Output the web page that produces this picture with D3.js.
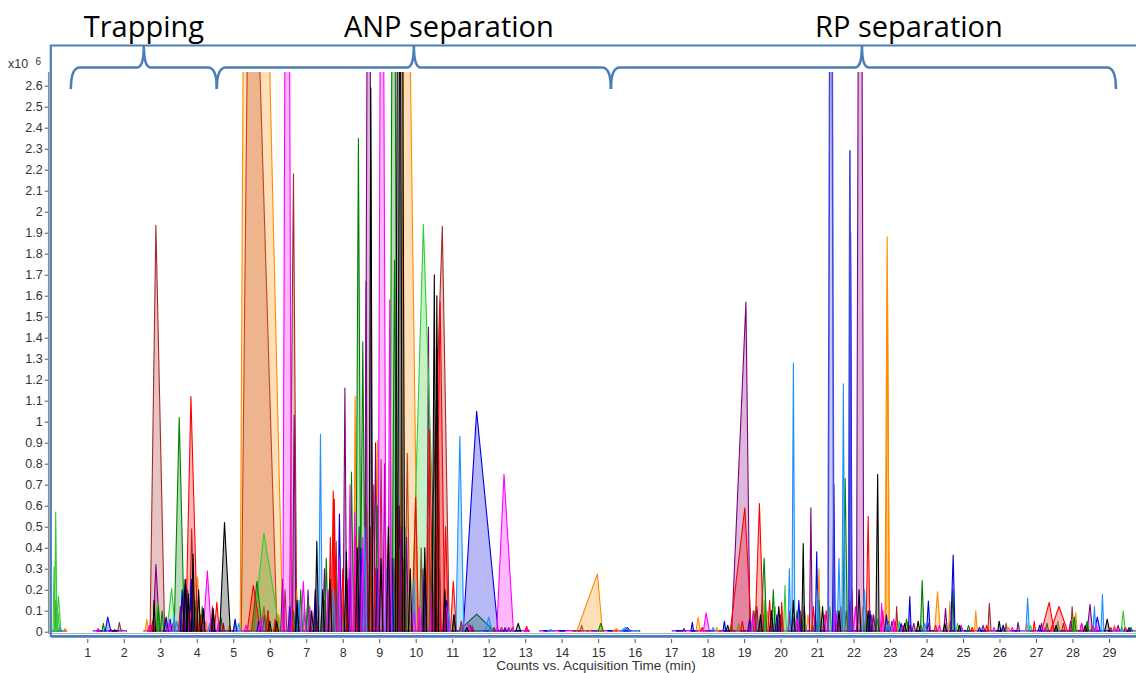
<!DOCTYPE html>
<html lang="en">
<head>
<meta charset="UTF-8">
<title>EIC overlay: trapping, ANP and RP separation</title>
<script src="https://d3js.org/d3.v7.min.js"></script>
<style>
  body { margin: 0; background: #fff; }
  svg text { font-family: "Liberation Sans", Arial, sans-serif; }
</style>
</head>
<body>
<div id="chart"></div>
<script>
// every peak: [start (min), apex (min), end (min), height (x10^6 counts)]
var brownPeaks = [
  [0.12, 0.14, 0.17, 0.15], [1.83, 1.88, 1.93, 0.045], [2.72, 2.88, 3.12, 1.935], [3.1, 3.14, 3.18, 0.06],
  [3.8, 3.86, 3.94, 0.49], [3.95, 4.0, 4.05, 0.12], [4.38, 4.43, 4.48, 0.12], [5.22, 5.47, 6.2, 4.16],
  [5.75, 5.84, 5.93, 0.12], [6.37, 6.42, 6.47, 0.2], [6.54, 6.65, 6.74, 2.18], [6.9, 6.95, 7.0, 0.08],
  [7.45, 7.5, 7.55, 0.15], [7.77, 7.82, 7.87, 0.43], [7.97, 8.02, 8.06, 0.15], [8.3, 8.35, 8.4, 0.3],
  [8.8, 8.85, 8.9, 0.7], [9.0, 9.05, 9.1, 0.82], [9.35, 9.4, 9.45, 0.35], [9.7, 9.77, 9.84, 0.85],
  [10.1, 10.15, 10.2, 0.4], [10.36, 10.73, 10.92, 1.93], [11.0, 11.05, 11.1, 0.08], [11.45, 11.5, 11.55, 0.03],
  [12.3, 12.35, 12.4, 0.02], [14.5, 14.55, 14.6, 0.03], [19.2, 19.25, 19.3, 0.1], [19.5, 19.55, 19.6, 0.08],
  [19.85, 19.9, 19.95, 0.06], [20.3, 20.35, 20.4, 0.07], [20.5, 20.55, 20.6, 0.1], [21.0, 21.04, 21.08, 0.09],
  [21.75, 21.8, 21.85, 0.1], [22.45, 22.5, 22.55, 0.08], [23.15, 23.18, 23.22, 0.12], [23.8, 23.85, 23.9, 0.03],
  [24.6, 24.65, 24.7, 0.05], [25.68, 25.72, 25.77, 0.135], [26.15, 26.18, 26.22, 0.04], [27.7, 27.75, 27.8, 0.04],
  [27.95, 27.99, 28.03, 0.12], [29.0, 29.05, 29.1, 0.02]
];
var orangePeaks = [
  [0.33, 0.39, 0.45, 0.015], [2.58, 2.63, 2.68, 0.06], [3.93, 4.02, 4.12, 0.26], [4.2, 4.25, 4.3, 0.05],
  [4.85, 4.9, 4.95, 0.03], [5.19, 5.4, 6.36, 7.15], [6.2, 6.25, 6.3, 0.08], [6.69, 6.74, 6.79, 0.2],
  [7.3, 7.35, 7.4, 0.12], [7.8, 7.85, 7.9, 0.25], [8.3, 8.34, 8.39, 1.12], [8.6, 8.65, 8.7, 0.6],
  [8.9, 8.95, 9.0, 0.91], [9.2, 9.25, 9.3, 0.45], [9.57, 9.73, 10.06, 4.3], [10.3, 10.35, 10.4, 0.5],
  [10.5, 10.55, 10.6, 0.2], [11.0, 11.05, 11.1, 0.05], [11.4, 11.45, 11.5, 0.02], [14.41, 14.98, 15.12, 0.275],
  [15.4, 15.5, 15.6, 0.015], [17.68, 17.74, 17.8, 0.07], [18.2, 18.25, 18.3, 0.02], [19.15, 19.2, 19.25, 0.04],
  [19.6, 19.65, 19.7, 0.1], [20.0, 20.05, 20.1, 0.06], [20.7, 20.75, 20.8, 0.08], [21.01, 21.05, 21.09, 0.3],
  [21.6, 21.65, 21.7, 0.06], [22.2, 22.25, 22.3, 0.12], [22.86, 22.92, 22.98, 1.88], [22.88, 22.93, 22.98, 1.65],
  [23.45, 23.5, 23.55, 0.05], [24.22, 24.3, 24.38, 0.19], [24.6, 24.64, 24.68, 0.143], [25.31, 25.35, 25.39, 0.1],
  [26.2, 26.25, 26.3, 0.02], [26.7, 26.75, 26.8, 0.04], [27.4, 27.45, 27.5, 0.03], [28.05, 28.09, 28.13, 0.09],
  [29.1, 29.15, 29.2, 0.03]
];
var purplePeaks = [
  [1.6, 1.65, 1.7, 0.01], [2.8, 2.88, 2.98, 0.32], [3.5, 3.55, 3.6, 0.12], [3.8, 3.85, 3.9, 0.18],
  [4.4, 4.45, 4.5, 0.1], [5.8, 5.85, 5.9, 0.08], [6.3, 6.35, 6.4, 0.25], [6.62, 6.67, 6.72, 1.03],
  [7.0, 7.05, 7.1, 0.2], [7.45, 7.5, 7.55, 0.3], [7.75, 7.8, 7.85, 0.35], [8.01, 8.06, 8.11, 1.16],
  [8.4, 8.45, 8.5, 0.5], [8.6, 8.64, 8.68, 1.67], [8.61, 8.71, 8.81, 5], [8.85, 8.9, 8.95, 0.9],
  [9.1, 9.15, 9.2, 0.8], [9.5, 9.55, 9.6, 0.6], [9.7, 9.75, 9.8, 0.45], [10.15, 10.2, 10.25, 0.3],
  [10.3, 10.35, 10.4, 1.45], [10.6, 10.65, 10.7, 0.3], [11.2, 11.25, 11.3, 0.05], [12.5, 12.55, 12.6, 0.02],
  [17.3, 17.35, 17.4, 0.015], [18.66, 19.05, 19.16, 1.57], [19.3, 19.35, 19.4, 0.12], [19.95, 20.0, 20.05, 0.08],
  [20.2, 20.25, 20.3, 0.07], [20.6, 20.65, 20.7, 0.12], [20.79, 20.83, 20.87, 0.59], [21.5, 21.55, 21.6, 0.1],
  [21.85, 21.9, 21.95, 0.15], [22.08, 22.18, 22.28, 6], [22.5, 22.55, 22.6, 0.08], [23.0, 23.05, 23.1, 0.05],
  [23.6, 23.65, 23.7, 0.04], [24.47, 24.52, 24.57, 0.11], [25.5, 25.55, 25.6, 0.03], [26.47, 26.51, 26.55, 0.045],
  [27.1, 27.15, 27.2, 0.04], [27.9, 27.95, 28.0, 0.05], [28.4, 28.48, 28.55, 0.13], [29.2, 29.25, 29.3, 0.03]
];
var limePeaks = [
  [0.06, 0.09, 0.12, 0.31], [0.1, 0.134, 0.17, 0.57], [0.14, 0.21, 0.28, 0.17], [0.17, 0.2, 0.24, 0.09],
  [2.88, 2.92, 2.96, 0.14], [3.18, 3.31, 3.42, 0.207], [4.3, 4.35, 4.4, 0.04], [5.0, 5.05, 5.1, 0.05],
  [5.55, 5.84, 6.28, 0.47], [6.5, 6.55, 6.6, 0.15], [6.9, 6.95, 7.0, 0.12], [7.6, 7.65, 7.7, 0.3],
  [7.9, 7.95, 8.0, 0.2], [8.7, 8.75, 8.8, 0.5], [9.5, 9.55, 9.6, 0.4], [9.89, 10.21, 10.58, 1.94],
  [11.5, 11.55, 11.6, 0.03], [12.0, 12.05, 12.1, 0.02], [18.8, 18.85, 18.9, 0.04], [19.55, 19.57, 19.6, 0.15],
  [19.8, 19.85, 19.9, 0.12], [20.08, 20.12, 20.16, 0.22], [20.6, 20.65, 20.7, 0.1], [21.3, 21.35, 21.4, 0.12],
  [22.6, 22.65, 22.7, 0.06], [23.2, 23.25, 23.3, 0.05], [24.8, 24.85, 24.9, 0.04], [26.8, 26.85, 26.9, 0.03],
  [27.55, 27.6, 27.65, 0.05], [28.0, 28.02, 28.06, 0.07], [29.33, 29.39, 29.45, 0.1]
];
var greenPeaks = [
  [1.4, 1.44, 1.48, 0.04], [2.9, 2.95, 3.0, 0.12], [3.0, 3.05, 3.1, 0.1], [3.38, 3.52, 3.66, 1.02],
  [3.7, 3.75, 3.8, 0.2], [3.9, 3.95, 4.0, 0.15], [4.1, 4.15, 4.2, 0.12], [4.6, 4.66, 4.72, 0.07],
  [5.5, 5.65, 5.8, 0.24], [5.9, 5.95, 6.0, 0.1], [6.6, 6.65, 6.7, 0.1], [6.8, 6.85, 6.9, 0.2],
  [7.0, 7.05, 7.1, 0.15], [7.5, 7.55, 7.6, 0.35], [7.75, 7.8, 7.85, 0.3], [8.19, 8.24, 8.3, 0.76],
  [8.36, 8.43, 8.5, 2.35], [8.48, 8.55, 8.62, 1.38], [8.9, 8.95, 9.0, 0.6], [9.29, 9.39, 9.5, 5],
  [9.35, 9.42, 9.5, 1.77], [9.65, 9.7, 9.75, 0.5], [10.4, 10.45, 10.5, 0.3], [11.16, 11.67, 12.17, 0.084],
  [12.6, 12.65, 12.7, 0.02], [15.0, 15.07, 15.15, 0.04], [18.6, 18.65, 18.7, 0.03], [19.25, 19.3, 19.35, 0.1],
  [19.45, 19.55, 19.62, 0.35], [19.75, 19.8, 19.85, 0.2], [20.4, 20.45, 20.5, 0.1], [20.9, 20.95, 21.0, 0.08],
  [21.0, 21.05, 21.1, 0.15], [21.7, 21.77, 21.83, 0.73], [22.3, 22.35, 22.4, 0.1], [22.9, 22.95, 23.0, 0.05],
  [23.4, 23.45, 23.5, 0.06], [23.83, 23.88, 23.93, 0.243], [24.68, 24.72, 24.76, 0.2], [25.1, 25.15, 25.2, 0.03],
  [26.05, 26.1, 26.15, 0.03], [27.25, 27.3, 27.35, 0.04], [28.0, 28.05, 28.1, 0.07], [28.35, 28.4, 28.45, 0.05],
  [29.55, 29.6, 29.65, 0.02]
];
var redPeaks = [
  [2.68, 2.72, 2.78, 0.03], [2.74, 2.79, 2.85, 0.05], [3.3, 3.35, 3.4, 0.04], [3.5, 3.6, 3.68, 0.16],
  [3.62, 3.7, 3.8, 0.25], [3.7, 3.84, 4.02, 1.12], [4.05, 4.1, 4.15, 0.08], [4.48, 4.55, 4.62, 0.14],
  [4.7, 4.73, 4.76, 0.04], [5.38, 5.55, 5.75, 0.22], [5.9, 5.95, 6.0, 0.1], [6.1, 6.15, 6.2, 0.06],
  [6.55, 6.6, 6.65, 0.15], [7.2, 7.25, 7.3, 0.2], [7.62, 7.66, 7.71, 0.45], [7.69, 7.74, 7.8, 0.67],
  [7.72, 7.77, 7.82, 0.63], [7.95, 8.0, 8.05, 0.3], [8.1, 8.15, 8.2, 0.25], [8.3, 8.35, 8.4, 0.45],
  [8.45, 8.5, 8.55, 0.35], [8.7, 8.75, 8.8, 0.5], [8.85, 8.9, 8.95, 0.3], [9.2, 9.25, 9.3, 0.4],
  [9.45, 9.5, 9.55, 0.6], [9.6, 9.65, 9.7, 0.35], [9.9, 10.0, 10.08, 0.64], [10.28, 10.38, 10.48, 0.96],
  [10.5, 10.6, 10.68, 1.35], [10.55, 10.67, 10.8, 1.57], [10.75, 10.82, 10.9, 0.5], [10.95, 11.03, 11.12, 0.24],
  [11.2, 11.25, 11.3, 0.05], [11.5, 11.55, 11.6, 0.02], [12.1, 12.15, 12.2, 0.02], [12.98, 13.04, 13.1, 0.025],
  [17.8, 17.85, 17.9, 0.02], [18.62, 19.02, 19.2, 0.59], [18.9, 18.95, 19.0, 0.05], [19.3, 19.42, 19.53, 0.61],
  [19.65, 19.7, 19.75, 0.15], [20.0, 20.03, 20.07, 0.14], [20.2, 20.25, 20.3, 0.1], [20.5, 20.55, 20.6, 0.08],
  [20.85, 20.9, 20.95, 0.12], [21.2, 21.25, 21.3, 0.1], [21.6, 21.65, 21.7, 0.12], [21.9, 21.95, 22.0, 0.2],
  [22.34, 22.4, 22.45, 0.55], [22.75, 22.8, 22.85, 0.1], [23.1, 23.14, 23.18, 0.05], [23.5, 23.55, 23.6, 0.03],
  [24.0, 24.05, 24.1, 0.04], [24.2, 24.25, 24.3, 0.03], [25.2, 25.25, 25.3, 0.02], [25.6, 25.65, 25.7, 0.03],
  [26.92, 26.95, 26.99, 0.05], [27.15, 27.36, 27.5, 0.14], [27.39, 27.63, 27.87, 0.12], [28.2, 28.25, 28.3, 0.04],
  [28.5, 28.55, 28.6, 0.03], [29.4, 29.45, 29.5, 0.02]
];
var bluePeaks = [
  [1.49, 1.56, 1.65, 0.07], [3.1, 3.16, 3.22, 0.07], [3.22, 3.27, 3.32, 0.06], [3.55, 3.6, 3.66, 0.2],
  [3.64, 3.7, 3.76, 0.22], [3.8, 3.85, 3.9, 0.25], [4.35, 4.4, 4.45, 0.05], [5.0, 5.05, 5.1, 0.06],
  [5.65, 5.7, 5.75, 0.05], [6.5, 6.55, 6.6, 0.12], [6.7, 6.75, 6.8, 0.1], [7.2, 7.25, 7.3, 0.2],
  [7.86, 7.91, 7.96, 0.56], [8.15, 8.2, 8.25, 0.3], [8.45, 8.5, 8.55, 0.4], [8.9, 8.95, 9.0, 0.3],
  [9.3, 9.35, 9.4, 0.35], [10.2, 10.25, 10.3, 0.25], [10.8, 10.85, 10.9, 0.15], [11.3, 11.67, 12.26, 1.05],
  [12.4, 12.45, 12.5, 0.02], [15.7, 15.8, 15.9, 0.02], [17.54, 17.58, 17.62, 0.045], [18.42, 18.46, 18.5, 0.05],
  [19.1, 19.15, 19.2, 0.06], [19.85, 19.9, 19.95, 0.08], [20.45, 20.5, 20.55, 0.15], [20.95, 20.99, 21.03, 0.38],
  [21.42, 21.46, 21.5, 0.7], [21.87, 21.92, 21.96, 1.9], [22.4, 22.45, 22.5, 0.1], [22.85, 22.9, 22.95, 0.08],
  [23.25, 23.3, 23.35, 0.04], [23.5, 23.54, 23.58, 0.167], [24.0, 24.05, 24.1, 0.146], [24.66, 24.73, 24.78, 0.365],
  [25.4, 25.45, 25.5, 0.02], [26.05, 26.1, 26.15, 0.03], [27.05, 27.1, 27.15, 0.03], [28.6, 28.68, 28.76, 0.07],
  [29.5, 29.55, 29.6, 0.02]
];
var slatePeaks = [
  [21.3, 21.38, 21.46, 5], [21.86, 21.9, 21.94, 2.29]
];
var dodgerPeaks = [
  [0.2, 0.25, 0.3, 0.02], [1.92, 1.95, 1.98, 0.01], [3.35, 3.38, 3.42, 0.08], [3.4, 3.45, 3.5, 0.05],
  [4.55, 4.6, 4.65, 0.04], [5.1, 5.15, 5.2, 0.04], [6.75, 6.8, 6.85, 0.15], [7.34, 7.39, 7.44, 0.94],
  [7.7, 7.75, 7.8, 0.2], [8.55, 8.6, 8.65, 0.5], [9.15, 9.2, 9.25, 0.3], [9.9, 9.95, 10.0, 0.25],
  [10.85, 10.9, 10.95, 0.1], [11.1, 11.21, 11.32, 0.93], [11.9, 12.0, 12.1, 0.07], [13.6, 13.7, 13.8, 0.01],
  [15.6, 15.75, 15.9, 0.02], [18.1, 18.15, 18.2, 0.02], [19.4, 19.45, 19.5, 0.08], [20.2, 20.24, 20.28, 0.3],
  [20.31, 20.35, 20.39, 1.28], [21.0, 21.02, 21.05, 0.2], [21.55, 21.6, 21.65, 0.35], [21.68, 21.72, 21.76, 1.18],
  [22.25, 22.3, 22.35, 0.2], [22.9, 22.95, 23.0, 0.04], [23.9, 23.95, 24.0, 0.04], [24.9, 24.95, 25.0, 0.03],
  [26.72, 26.77, 26.82, 0.16], [27.5, 27.55, 27.6, 0.03], [28.56, 28.6, 28.64, 0.12], [28.78, 28.82, 28.86, 0.178],
  [29.3, 29.35, 29.4, 0.02]
];
var magentaPeaks = [
  [1.25, 1.3, 1.35, 0.015], [2.65, 2.7, 2.75, 0.03], [3.2, 3.25, 3.3, 0.05], [3.78, 3.82, 3.86, 0.1],
  [4.18, 4.29, 4.4, 0.29], [4.55, 4.6, 4.65, 0.05], [5.3, 5.35, 5.4, 0.03], [5.7, 5.75, 5.8, 0.06],
  [6.36, 6.48, 6.6, 6], [6.85, 6.92, 6.99, 0.24], [7.05, 7.1, 7.15, 0.12], [7.55, 7.6, 7.65, 0.2],
  [7.85, 7.9, 7.95, 0.35], [8.15, 8.2, 8.25, 0.7], [8.28, 8.33, 8.38, 0.57], [8.5, 8.55, 8.6, 0.45],
  [8.97, 9.07, 9.19, 5], [9.24, 9.29, 9.34, 1.58], [9.55, 9.6, 9.65, 0.5], [9.9, 9.95, 10.0, 0.1],
  [10.05, 10.1, 10.15, 0.12], [10.4, 10.45, 10.5, 0.2], [10.8, 10.85, 10.9, 0.12], [11.4, 11.45, 11.5, 0.04],
  [12.22, 12.42, 12.68, 0.75], [13.0, 13.05, 13.1, 0.015], [17.88, 17.96, 18.05, 0.09], [19.2, 19.25, 19.3, 0.08],
  [19.7, 19.75, 19.8, 0.1], [19.9, 19.95, 20.0, 0.05], [20.4, 20.45, 20.5, 0.06], [21.15, 21.2, 21.25, 0.08],
  [21.45, 21.5, 21.55, 0.1], [22.0, 22.05, 22.1, 0.12], [22.73, 22.77, 22.81, 0.135], [23.05, 23.1, 23.15, 0.06],
  [23.3, 23.35, 23.4, 0.03], [24.3, 24.35, 24.4, 0.03], [24.9, 24.95, 25.0, 0.03], [25.8, 25.85, 25.9, 0.02],
  [26.3, 26.35, 26.4, 0.02], [27.2, 27.25, 27.3, 0.02], [28.2, 28.25, 28.3, 0.04], [28.6, 28.65, 28.7, 0.03],
  [29.1, 29.15, 29.2, 0.02]
];
var blackPeaks = [
  [1.7, 1.75, 1.8, 0.01], [2.8, 2.83, 2.87, 0.15], [3.62, 3.68, 3.74, 0.25], [3.72, 3.77, 3.82, 0.18],
  [3.85, 3.9, 3.95, 0.37], [4.0, 4.05, 4.1, 0.2], [4.13, 4.18, 4.23, 0.11], [4.4, 4.45, 4.5, 0.11],
  [4.63, 4.76, 4.92, 0.52], [5.95, 6.0, 6.05, 0.05], [6.14, 6.19, 6.24, 0.05], [6.7, 6.75, 6.8, 0.15],
  [7.1, 7.15, 7.2, 0.1], [7.24, 7.29, 7.34, 0.43], [7.4, 7.45, 7.5, 0.2], [7.6, 7.65, 7.7, 0.25],
  [8.05, 8.1, 8.15, 0.38], [8.35, 8.4, 8.45, 0.4], [8.72, 8.77, 8.82, 2.59], [9.0, 9.05, 9.1, 0.35],
  [9.2, 9.25, 9.3, 0.5], [9.44, 9.54, 9.64, 5], [9.5, 9.6, 9.7, 5], [9.8, 9.85, 9.9, 0.3],
  [10.2, 10.25, 10.3, 0.4], [10.45, 10.51, 10.56, 1.7], [10.53, 10.58, 10.63, 1.6], [10.75, 10.8, 10.85, 0.2],
  [11.0, 11.05, 11.1, 0.08], [11.35, 11.4, 11.45, 0.02], [12.74, 12.81, 12.88, 0.04], [18.5, 18.55, 18.6, 0.03],
  [19.4, 19.45, 19.5, 0.08], [19.7, 19.75, 19.8, 0.1], [19.9, 19.95, 20.0, 0.12], [20.3, 20.35, 20.4, 0.15],
  [20.58, 20.62, 20.66, 0.42], [21.1, 21.15, 21.2, 0.12], [21.55, 21.6, 21.65, 0.1], [22.1, 22.15, 22.2, 0.2],
  [22.35, 22.4, 22.45, 0.1], [22.61, 22.66, 22.7, 0.75], [23.35, 23.4, 23.45, 0.04], [23.72, 23.77, 23.82, 0.05],
  [24.45, 24.5, 24.55, 0.04], [24.85, 24.9, 24.95, 0.03], [25.95, 25.99, 26.04, 0.05], [27.5, 27.55, 27.6, 0.03],
  [28.3, 28.35, 28.4, 0.03], [28.88, 28.95, 29.02, 0.06]
];

// where the traces have points at all (min)
var baselineRuns = [[0.02, 0.44], [1.15, 2.08], [2.54, 13.13], [13.39, 16.15], [17.02, 29.74]];

var yTicks = [0, 0.1, 0.2, 0.3, 0.4, 0.5, 0.6, 0.7, 0.8, 0.9, 1, 1.1, 1.2, 1.3, 1.4, 1.5, 1.6, 1.7, 1.8, 1.9, 2, 2.1, 2.2, 2.3, 2.4, 2.5, 2.6];
var xTicks = [1, 2, 3, 4, 5, 6, 7, 8, 9, 10, 11, 12, 13, 14, 15, 16, 17, 18, 19, 20, 21, 22, 23, 24, 25, 26, 27, 28, 29];

// run stages: label, brace start, brace tip, brace end (min)
var stages = [
  ["Trapping", 0.55, 2.55, 4.55],
  ["ANP separation", 4.55, 9.95, 15.35],
  ["RP separation", 15.35, 22.23, 29.19]
];

var series = [
  {peaks: brownPeaks, color: "#a52a2a", width: 1.1},
  {peaks: orangePeaks, color: "#ff8c00", width: 1.1},
  {peaks: purplePeaks, color: "#800080", width: 1.1},
  {peaks: limePeaks, color: "#32cd32", width: 1.1},
  {peaks: greenPeaks, color: "#008000", width: 1.1},
  {peaks: redPeaks, color: "#ff0000", width: 1.1},
  {peaks: bluePeaks, color: "#0000dd", width: 1.1},
  {peaks: slatePeaks, color: "#4646e0", width: 1.6},
  {peaks: dodgerPeaks, color: "#1e90ff", width: 1.1},
  {peaks: magentaPeaks, color: "#ff00ff", width: 1.1},
  {peaks: blackPeaks, color: "#000000", width: 1.1}
];

var W = 1136, H = 673;
var labelOffset = [0, 35, 47];   // px, label centre relative to brace tip

var x = d3.scaleLinear().domain([0, 29.74]).range([50.8, 1136]);
var y = d3.scaleLinear().domain([0, 2.6]).range([631.7, 85.7]);

var svg = d3.select("#chart").append("svg")
  .attr("width", W)
  .attr("height", H);

svg.append("clipPath").attr("id", "plot")
  .append("rect")
  .attr("x", 51).attr("y", 72)
  .attr("width", W - 51).attr("height", 634 - 72);

var g = svg.append("g").attr("clip-path", "url(#plot)");

var area = d3.area()
  .x(d => x(d[0]))
  .y0(y(0))
  .y1(d => y(d[1]));

var line = d3.line()
  .x(d => x(d[0]))
  .y(d => y(d[1]));

// baseline of all traces
var baseColors = ["#ff00ff", "#1e90ff", "#32cd32", "#ff0000", "#0000dd"];
var baseDash = ["none", "5,7", "4,9", "3,11", "6,10"];
baseColors.forEach(function(c, i) {
  g.selectAll(null)
    .data(baselineRuns)
    .join("path")
    .attr("d", r => line([[r[0], 0.004], [r[1], 0.004]]))
    .attr("fill", "none")
    .attr("stroke", c)
    .attr("stroke-width", 1.5)
    .attr("stroke-dasharray", baseDash[i])
    .attr("stroke-dashoffset", i * 3);
});

series.forEach(function(s) {
  var pts = s.peaks.map(p => [[p[0], 0], [p[1], p[3]], [p[2], 0]]);
  g.selectAll(null)
    .data(pts)
    .join("path")
    .attr("d", area)
    .attr("fill", s.color)
    .attr("fill-opacity", 0.28)
    .attr("stroke", "none");
  g.selectAll(null)
    .data(pts)
    .join("path")
    .attr("d", line)
    .attr("fill", "none")
    .attr("stroke", s.color)
    .attr("stroke-width", s.width)
    .attr("stroke-linejoin", "round");
});

// axes
var yAxis = svg.append("g")
  .attr("transform", "translate(48.7,0)")
  .call(d3.axisLeft(y).tickValues(yTicks).tickFormat(d3.format("~g")).tickSize(4).tickPadding(2).tickSizeOuter(0));
yAxis.select(".domain").remove();
yAxis.selectAll(".tick line").attr("stroke", "#555");
yAxis.selectAll("text").attr("font-size", 12.5).attr("fill", "#333");

var xAxis = svg.append("g")
  .attr("transform", "translate(0,639)")
  .call(d3.axisBottom(x).tickValues(xTicks).tickFormat(d3.format("d")).tickSize(4).tickPadding(5).tickSizeOuter(0));
xAxis.select(".domain").remove();
xAxis.selectAll(".tick line").attr("stroke", "#555");
xAxis.selectAll("text").attr("font-size", 12.5).attr("fill", "#333");

svg.append("line")
  .attr("x1", 48.7).attr("x2", 48.7).attr("y1", 72).attr("y2", 634)
  .attr("stroke", "#8c8c8c").attr("stroke-width", 1.5);
svg.append("line")
  .attr("x1", 48.7).attr("x2", W).attr("y1", 633.5).attr("y2", 633.5)
  .attr("stroke", "#b0b0b0").attr("stroke-width", 1);

svg.append("text")
  .attr("x", 8).attr("y", 68)
  .attr("font-size", 12.5).attr("fill", "#333")
  .text("x10");
svg.append("text")
  .attr("x", 35.5).attr("y", 64.5)
  .attr("font-size", 10).attr("fill", "#333")
  .text("6");

svg.append("text")
  .attr("x", 596).attr("y", 670)
  .attr("text-anchor", "middle")
  .attr("font-size", 13.5).attr("fill", "#333")
  .text("Counts vs. Acquisition Time (min)");

// blue frame and braces
var frameColor = "#4a7ebb";
svg.append("path")
  .attr("d", "M" + W + ",45.5 H50.8 V636 H" + W)
  .attr("fill", "none")
  .attr("stroke", frameColor)
  .attr("stroke-width", 2.2);
svg.append("line")
  .attr("x1", 50.8).attr("x2", W).attr("y1", 637).attr("y2", 637)
  .attr("stroke", frameColor).attr("stroke-width", 1.5);

function brace(a, m, b) {
  var xa = x(a), xm = x(m), xb = x(b), yb = 67.5, yt = 45.5, ye = 89;
  return "M" + xa + "," + ye +
    " Q" + xa + "," + yb + " " + (xa + 9) + "," + yb +
    " L" + (xm - 7) + "," + yb +
    " Q" + xm + "," + yb + " " + xm + "," + yt +
    " Q" + xm + "," + yb + " " + (xm + 7) + "," + yb +
    " L" + (xb - 9) + "," + yb +
    " Q" + xb + "," + yb + " " + xb + "," + ye;
}

svg.selectAll(".brace")
  .data(stages)
  .join("path")
  .attr("class", "brace")
  .attr("d", d => brace(d[1], d[2], d[3]))
  .attr("fill", "none")
  .attr("stroke", frameColor)
  .attr("stroke-width", 2.6);

svg.selectAll(".stage")
  .data(stages)
  .join("text")
  .attr("class", "stage")
  .attr("x", (d, i) => x(d[2]) + labelOffset[i])
  .attr("y", 37)
  .attr("text-anchor", "middle")
  .style("font-family", "'Open Sans', 'Noto Sans', sans-serif")
  .attr("font-size", 29)
  .attr("fill", "#000")
  .text(d => d[0]);
</script>
</body>
</html>
